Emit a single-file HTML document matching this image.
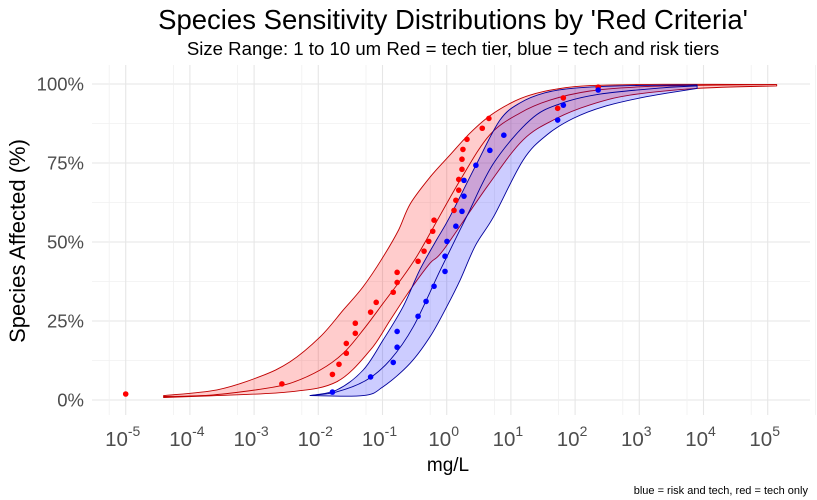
<!DOCTYPE html>
<html><head><meta charset="utf-8"><style>
html,body{margin:0;padding:0;background:#fff;}
svg{display:block;font-family:"Liberation Sans",Arial,sans-serif;}
</style></head><body>
<svg id="chart" width="817" height="500" viewBox="0 0 817 500" xmlns="http://www.w3.org/2000/svg">
<rect width="817" height="500" fill="#fff"/>
<g id="grid"></g>
<g id="bands"></g>
<g id="points"></g>
<g id="axes"></g>
<text x="453" y="29" font-size="27.5" text-anchor="middle" fill="#000">Species Sensitivity Distributions by 'Red Criteria'</text>
<text x="453" y="55" font-size="18.6" text-anchor="middle" fill="#000">Size Range: 1 to 10 um Red = tech tier, blue = tech and risk tiers</text>
<text transform="translate(25,241) rotate(-90)" font-size="22" text-anchor="middle" fill="#000">Species Affected (%)</text>
<text x="448" y="471" font-size="19" text-anchor="middle" fill="#000">mg/L</text>
<text x="808" y="494" font-size="11" text-anchor="end" fill="#000">blue = risk and tech, red = tech only</text>
</svg>
<script>
const xTickExps = [-5,-4,-3,-2,-1,0,1,2,3,4,5];
const yTicks = [0,25,50,75,100];
const yTickLabels = ["0%","25%","50%","75%","100%"];
const redConc = [1e-5,0.00271,0.0166,0.021,0.0273,0.0273,0.0377,0.0377,0.0653,0.0798,0.147,0.169,0.169,0.358,0.444,0.525,0.606,0.635,1.30,1.39,1.54,1.54,1.73,1.73,1.79,2.07,3.58,4.54,53.5,65.6,229];
const redPct = [1.9,5.1,8.1,11.3,14.8,17.9,21.1,24.3,27.8,30.9,34.1,37.2,40.4,43.9,47.1,50.2,53.4,56.9,60.0,63.2,66.4,69.8,73.0,76.2,79.3,82.5,86.0,89.1,92.3,95.6,99.0];
const blueConc = [0.0166,0.0653,0.147,0.169,0.169,0.358,0.477,0.635,0.941,0.941,1.01,1.39,1.73,1.86,1.86,2.85,4.70,7.76,53.5,65.6,229];
const bluePct = [2.5,7.3,11.9,16.7,21.7,26.5,31.2,36.0,40.7,45.5,50.2,55.0,59.7,64.5,69.5,74.3,79.0,83.8,88.6,93.3,98.1];

// fitted curves and confidence bounds: log10(mg/L) and % affected
const redLoLog = [-4.41,-3.58,-2.91,-2.44,-1.97,-1.61,-1.30,-0.99,-0.75,-0.57,-0.26,0.05,0.36,0.67,0.99,1.30,1.71,2.23,3.37,5.14];
const redLoPct = [1.4,3.2,7.4,12.1,20.0,28.5,35.9,45.3,53.8,62.0,70.5,77.5,84.4,89.9,93.9,96.5,98.4,99.5,99.9,99.8];
const redFitLog = [-4.41,-3.64,-2.91,-2.44,-1.97,-1.61,-1.30,-0.99,-0.68,-0.47,-0.23,0.21,0.67,1.14,1.61,2.23,3.01,3.95,5.14];
const redFitPct = [1.1,1.6,3.4,5.3,9.5,14.8,22.2,30.6,39.0,45.3,53.8,69.6,83.9,90.8,94.9,97.8,99.1,99.6,99.8];
const redHiLog = [-4.41,-3.58,-2.44,-1.71,-1.19,-0.88,-0.57,-0.26,-0.05,0.63,1.19,1.71,2.23,2.86,3.89,5.14];
const redHiPct = [0.8,1.4,2.6,5.8,15.8,25.3,34.8,43.3,47.5,67.5,82.3,89.1,93.4,96.5,98.6,99.4];
const blueLoLog = [-2.13,-1.71,-1.30,-0.99,-0.68,-0.42,-0.16,0.05,0.47,0.83,1.14,1.53,2.00,2.86,3.90];
const blueLoPct = [1.4,3.2,9.5,19.0,29.5,41.1,50.6,58.0,74.9,88.6,94.0,97.2,98.7,99.5,99.7];
const blueFitLog = [-2.13,-1.71,-1.25,-0.88,-0.52,-0.10,0.31,0.73,1.30,1.76,2.39,3.37,3.90];
const blueFitPct = [1.4,2.6,6.3,12.7,23.2,41.1,58.0,74.9,88.6,93.7,96.8,98.8,99.4];
const blueHiLog = [-2.13,-1.30,-0.99,-0.57,-0.26,0.00,0.21,0.45,0.73,1.19,1.56,1.97,2.44,3.12,3.90];
const blueHiPct = [1.4,1.4,4.2,11.6,20.0,29.5,38.0,49.0,58.0,75.9,83.9,89.1,92.8,96.0,98.6];

const NS="http://www.w3.org/2000/svg";
const X0=92,X1=810,Y0=65,Y1=415;
const xs = l => 125.7 + (l+5)*64.2;
const ys = p => 400 - p*3.16;
function el(tag,attrs,parent){const e=document.createElementNS(NS,tag);for(const k in attrs)e.setAttribute(k,attrs[k]);parent.appendChild(e);return e;}
const grid=document.getElementById('grid'), bands=document.getElementById('bands'), pts=document.getElementById('points'), axes=document.getElementById('axes');

for(let i=0;i<yTicks.length;i++){
  const g=el('line',{x1:X0,x2:X1,y1:ys(yTicks[i]),y2:ys(yTicks[i]),stroke:'#e6e6e6','stroke-width':1.1},grid);
  
  
  if(i<yTicks.length-1){
    const m=el('line',{x1:X0,x2:X1,y1:ys((yTicks[i]+yTicks[i+1])/2),y2:ys((yTicks[i]+yTicks[i+1])/2),stroke:'#f0f0f0','stroke-width':0.8},grid);
    
    
  }
  const t=el('text',{x:84,y:ys(yTicks[i])+6.5,'font-size':18.5,'text-anchor':'end',fill:'#4d4d4d'},axes);
  t.textContent=yTickLabels[i];
  
  
}
for(let i=0;i<xTickExps.length;i++){
  const e=xTickExps[i];
  const g=el('line',{x1:xs(e),x2:xs(e),y1:Y0,y2:Y1,stroke:'#e6e6e6','stroke-width':1.1},grid);
  
  
  const mx=xs(e)-16.5;
  if(mx>X0){const m=el('line',{x1:mx,x2:mx,y1:Y0,y2:Y1,stroke:'#f0f0f0','stroke-width':0.8},grid);
    
    }
  if(i===xTickExps.length-1){const m2=xs(e)+47.7;const m=el('line',{x1:m2,x2:m2,y1:Y0,y2:Y1,stroke:'#f0f0f0','stroke-width':0.8},grid);
    
    }
  const t=el('text',{x:xs(e)-3,y:446,'font-size':20.5,'text-anchor':'middle',fill:'#4d4d4d'},axes);
  
  
  t.textContent='10';
  const s=el('tspan',{dy:-10,'font-size':14},t);
  s.textContent=String(e);
}
function toPts(L,P){return L.map((l,i)=>[xs(l),ys(P[i])]);}
function smooth(a,start){
  let d=start?('M'+a[0][0].toFixed(1)+','+a[0][1].toFixed(1)):('L'+a[0][0].toFixed(1)+','+a[0][1].toFixed(1));
  for(let i=0;i<a.length-1;i++){
    const p0=a[i-1]||a[i],p1=a[i],p2=a[i+1],p3=a[i+2]||a[i+1];
    const c1=[p1[0]+(p2[0]-p0[0])/6,p1[1]+(p2[1]-p0[1])/6];
    const c2=[p2[0]-(p3[0]-p1[0])/6,p2[1]-(p3[1]-p1[1])/6];
    d+='C'+c1.map(v=>v.toFixed(1)).join(',')+' '+c2.map(v=>v.toFixed(1)).join(',')+' '+p2.map(v=>v.toFixed(1)).join(',');
  }
  return d;
}
function drawBand(loL,loP,hiL,hiP,fL,fP,fill,stroke,name){
  const A=toPts(loL,loP),B=toPts(hiL,hiP).reverse();
  const poly=el('path',{d:smooth(A,true)+smooth(B,false)+'Z',fill:fill,stroke:stroke,'stroke-width':0.9,'stroke-linejoin':'round'},bands);
  
  
  const ln=el('path',{d:smooth(toPts(fL,fP),true),fill:'none',stroke:stroke,'stroke-width':0.9},bands);
  
  
}
drawBand(redLoLog,redLoPct,redHiLog,redHiPct,redFitLog,redFitPct,'rgba(255,0,0,0.2)','#c00000','red');
drawBand(blueLoLog,blueLoPct,blueHiLog,blueHiPct,blueFitLog,blueFitPct,'rgba(0,0,255,0.2)','#00009c','blue');
for(let i=0;i<redConc.length;i++){
  const c=el('circle',{cx:xs(Math.log10(redConc[i])),cy:ys(redPct[i]),r:2.8,fill:'#ff0000'},pts);
  
  
}
for(let i=0;i<blueConc.length;i++){
  const c=el('circle',{cx:xs(Math.log10(blueConc[i])),cy:ys(bluePct[i]),r:2.8,fill:'#0000ff'},pts);
  
  
}
</script>
</body></html>
